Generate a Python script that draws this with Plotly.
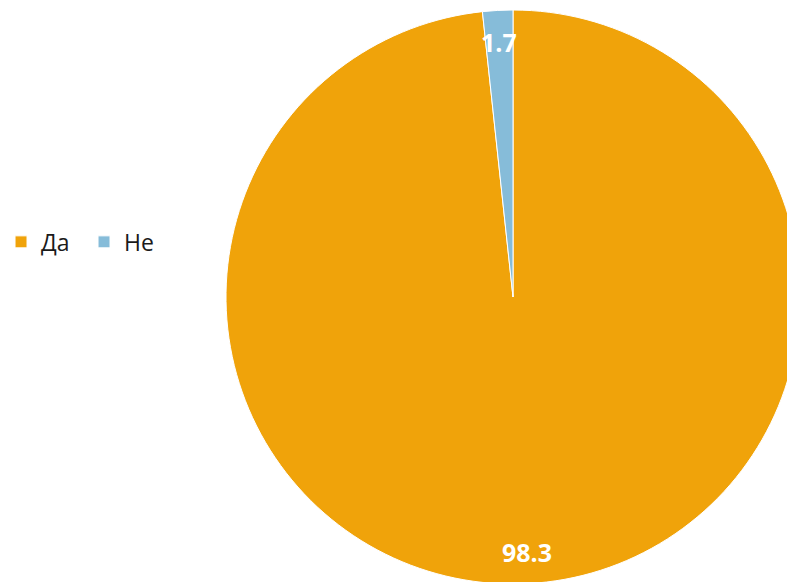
import math
import plotly.graph_objects as go

labels = ["Да", "Не"]
values = [98.3, 1.7]
colors = ["#F0A30A", "#86BCD9"]

FIG_W, FIG_H = 1026, 600
M_T, M_B = 10, 16
PLOT_W, PLOT_H = FIG_W, FIG_H - M_T - M_B
RADIUS_PX = min(PLOT_W, PLOT_H) / 2
LABEL_R = 0.89  # fraction of radius where data labels sit

fig = go.Figure(go.Pie(
    labels=labels,
    values=values,
    sort=False,
    direction="clockwise",
    rotation=0,
    marker=dict(colors=colors, line=dict(color="white", width=1)),
    textinfo="none",
    hoverinfo="label+value",
    domain=dict(x=[0, 1], y=[0, 1]),
    showlegend=True,
))

# data labels placed along each slice's bisector
total = sum(values)
cum = 0.0
annotations = []
for lab, v in zip(labels, values):
    mid = (cum + v / 2) / total * 2 * math.pi
    cum += v
    ax = 0.5 + LABEL_R * RADIUS_PX * math.sin(mid) / PLOT_W
    ay = 0.5 + LABEL_R * RADIUS_PX * math.cos(mid) / PLOT_H
    annotations.append(dict(
        x=ax, y=ay, xref="paper", yref="paper",
        text=f"<b>{v}</b>", showarrow=False,
        xanchor="center", yanchor="middle",
        font=dict(family="Open Sans", size=25, color="white"),
    ))

fig.update_layout(
    width=FIG_W,
    height=FIG_H,
    margin=dict(l=0, r=0, t=M_T, b=M_B),
    paper_bgcolor="white",
    annotations=annotations,
    legend=dict(
        orientation="h",
        x=0.001, xanchor="left",
        y=0.596, yanchor="middle",
        font=dict(family="Open Sans", size=23, color="#1a1a1a"),
        itemwidth=30,
        entrywidth=38,
        entrywidthmode="pixels",
    ),
)

fig.write_html(
    "out.html",
    post_script="document.body.style.margin='0';document.body.style.overflow='hidden';document.documentElement.style.overflow='hidden';",
)
